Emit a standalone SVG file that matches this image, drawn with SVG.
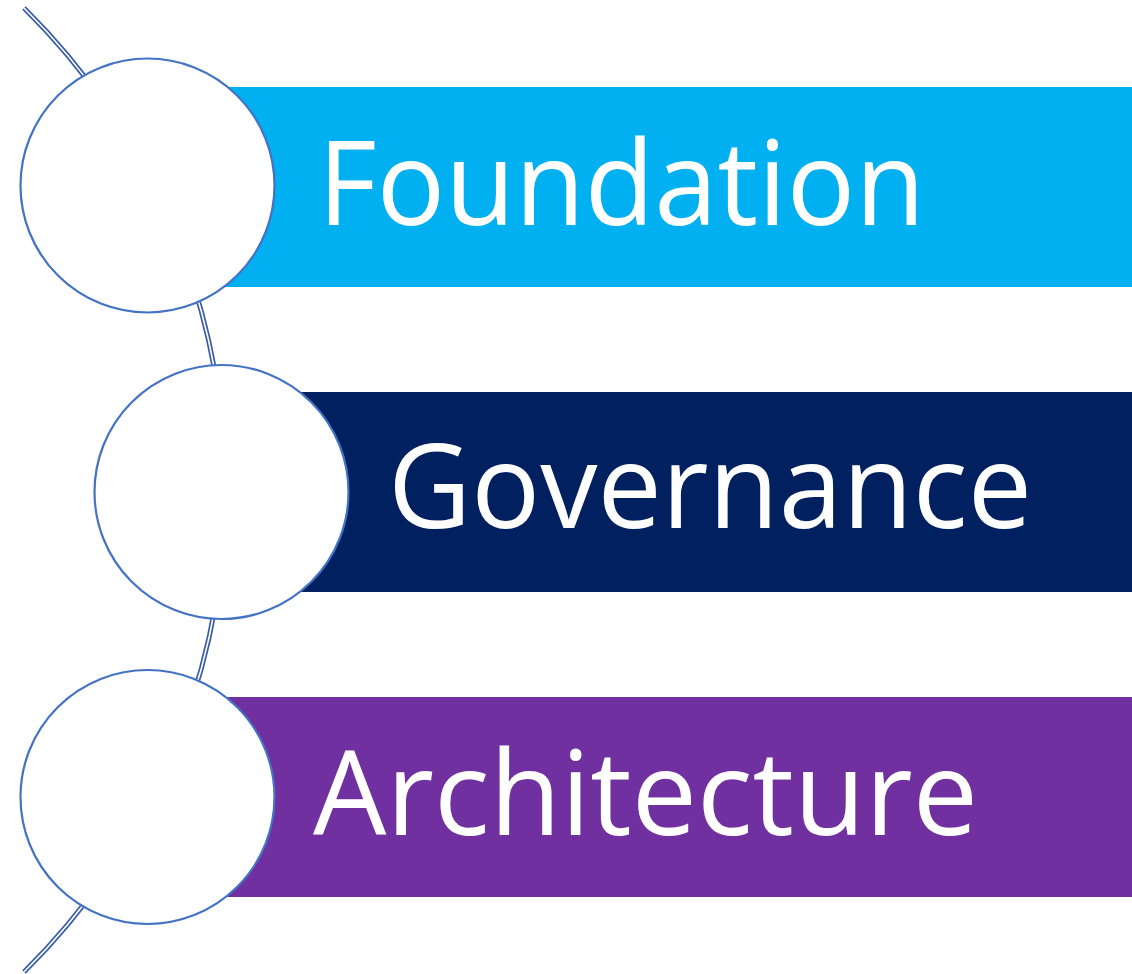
<svg xmlns="http://www.w3.org/2000/svg" width="1132" height="974" viewBox="0 0 1132 974">
<style>
.arc-o{fill:none;stroke:#3A5DA8;stroke-width:5}
.arc-i{fill:none;stroke:#ffffff;stroke-width:1.6}
.node-c{fill:#ffffff;stroke:#4472C4;stroke-width:2.2}
.lbl{fill:#ffffff;font-family:"Open Sans","Noto Sans",sans-serif;font-size:118px}
</style>
<rect width="1132" height="974" fill="#ffffff"/>
<g id="connectors">
<path class="arc-o" d="M 24 8 A 678 678 0 0 1 24 972"/>
<path class="arc-i" d="M 24 8 A 678 678 0 0 1 24 972"/>
</g>
<g id="node-foundation">
<rect x="148" y="87" width="984" height="200" fill="#00B0F0"/>
<circle class="node-c" cx="147.5" cy="185.5" r="127"/>
<text class="lbl" x="318" y="225" textLength="607" lengthAdjust="spacingAndGlyphs">Foundation</text>
</g>
<g id="node-governance">
<rect x="221" y="392" width="911" height="200" fill="#002060"/>
<circle class="node-c" cx="221.5" cy="492" r="127"/>
<text class="lbl" x="388" y="528" textLength="644" lengthAdjust="spacingAndGlyphs">Governance</text>
</g>
<g id="node-architecture">
<rect x="148" y="697" width="984" height="200" fill="#7030A0"/>
<circle class="node-c" cx="147.5" cy="797" r="127"/>
<text class="lbl" x="313" y="835" textLength="665" lengthAdjust="spacingAndGlyphs">Architecture</text>
</g>
</svg>
